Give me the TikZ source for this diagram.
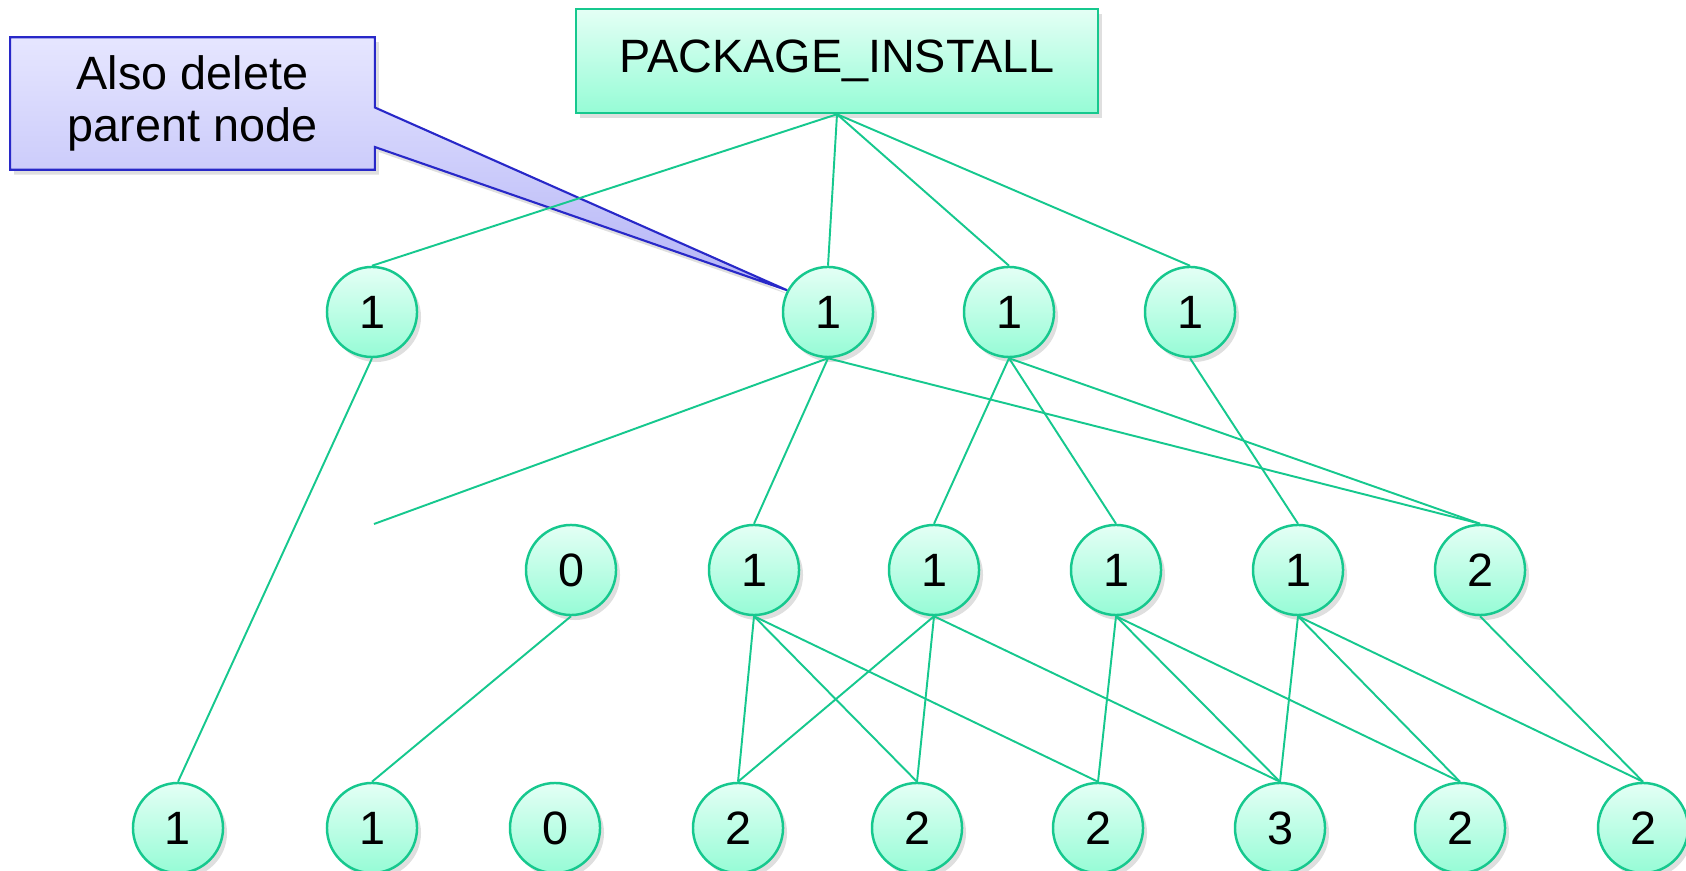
\documentclass[tikz,border=0pt]{standalone}
\usepackage{fontspec}
\setmainfont{Liberation Sans}
\usepackage{xcolor}
\usetikzlibrary{shadows,backgrounds}
\definecolor{edgegreen}{RGB}{22,200,142}
\definecolor{mintlight}{RGB}{228,255,245}
\definecolor{mintdark}{RGB}{150,252,214}
\definecolor{noteblue}{RGB}{40,40,200}
\definecolor{lavlight}{RGB}{230,230,255}
\definecolor{lavdark}{RGB}{180,180,246}
\newcommand{\labelsize}{\fontsize{13.3}{15}\selectfont}

\begin{document}
\begin{tikzpicture}[x=0.01cm,y=-0.01cm,font=\labelsize,
  count/.style={circle,draw=edgegreen,line width=0.7pt,top color=mintlight,
    bottom color=mintdark,minimum size=0.9cm,inner sep=0pt,
    drop shadow={opacity=0.25,shadow xshift=0.04cm,shadow yshift=-0.05cm}},
  link/.style={draw=edgegreen,line width=0.55pt}]
\useasboundingbox (0,0) rectangle (1686,871);
\node[draw=edgegreen,line width=0.7pt,top color=mintlight,bottom color=mintdark,
  minimum width=5.22cm,minimum height=1.04cm,
  drop shadow={opacity=0.25,shadow xshift=0.04cm,shadow yshift=-0.05cm}]
  (pkg) at (837,61) {PACKAGE\_INSTALL};
\node[count] (n1a) at (372,312) {1};
\node[count] (n1b) at (828,312) {1};
\node[count] (n1c) at (1009,312) {1};
\node[count] (n1d) at (1190,312) {1};
\node[count] (n2a) at (571,570) {0};
\node[count] (n2b) at (754,570) {1};
\node[count] (n2c) at (934,570) {1};
\node[count] (n2d) at (1116,570) {1};
\node[count] (n2e) at (1298,570) {1};
\node[count] (n2f) at (1480,570) {2};
\node[count] (n3a) at (178,828) {1};
\node[count] (n3b) at (372,828) {1};
\node[count] (n3c) at (555,828) {0};
\node[count] (n3d) at (738,828) {2};
\node[count] (n3e) at (917,828) {2};
\node[count] (n3f) at (1098,828) {2};
\node[count] (n3g) at (1280,828) {3};
\node[count] (n3h) at (1460,828) {2};
\node[count] (n3i) at (1643,828) {2};
\coordinate (cut) at (374,524);
\draw[link] (pkg.south) -- (n1a.north);
\draw[link] (pkg.south) -- (n1b.north);
\draw[link] (pkg.south) -- (n1c.north);
\draw[link] (pkg.south) -- (n1d.north);
\draw[link] (n1a.south) -- (n3a.north);
\draw[link] (n1b.south) -- (cut);
\draw[link] (n1b.south) -- (n2b.north);
\draw[link] (n1b.south) -- (n2f.north);
\draw[link] (n1c.south) -- (n2c.north);
\draw[link] (n1c.south) -- (n2d.north);
\draw[link] (n1c.south) -- (n2f.north);
\draw[link] (n1d.south) -- (n2e.north);
\draw[link] (n2a.south) -- (n3b.north);
\draw[link] (n2b.south) -- (n3d.north);
\draw[link] (n2b.south) -- (n3e.north);
\draw[link] (n2b.south) -- (n3f.north);
\draw[link] (n2c.south) -- (n3d.north);
\draw[link] (n2c.south) -- (n3e.north);
\draw[link] (n2c.south) -- (n3g.north);
\draw[link] (n2d.south) -- (n3f.north);
\draw[link] (n2d.south) -- (n3g.north);
\draw[link] (n2d.south) -- (n3h.north);
\draw[link] (n2e.south) -- (n3g.north);
\draw[link] (n2e.south) -- (n3h.north);
\draw[link] (n2e.south) -- (n3i.north);
\draw[link] (n2f.south) -- (n3i.north);
\node[align=center,minimum width=3.63cm,minimum height=1.31cm] (note) at (192.5,103.5)
  {Also delete\\parent node};
\begin{scope}[on background layer]
\draw[noteblue,line width=0.6pt,top color=lavlight,bottom color=lavdark,
  drop shadow={opacity=0.25,shadow xshift=0.04cm,shadow yshift=-0.05cm}]
  (note.north west) -- (note.north east) -- ([yshift=-0.04cm]note.east)
  -- (n1b.152) -- ([yshift=-0.435cm]note.east) -- (note.south east)
  -- (note.south west) -- cycle;
\end{scope}
\end{tikzpicture}
\end{document}
